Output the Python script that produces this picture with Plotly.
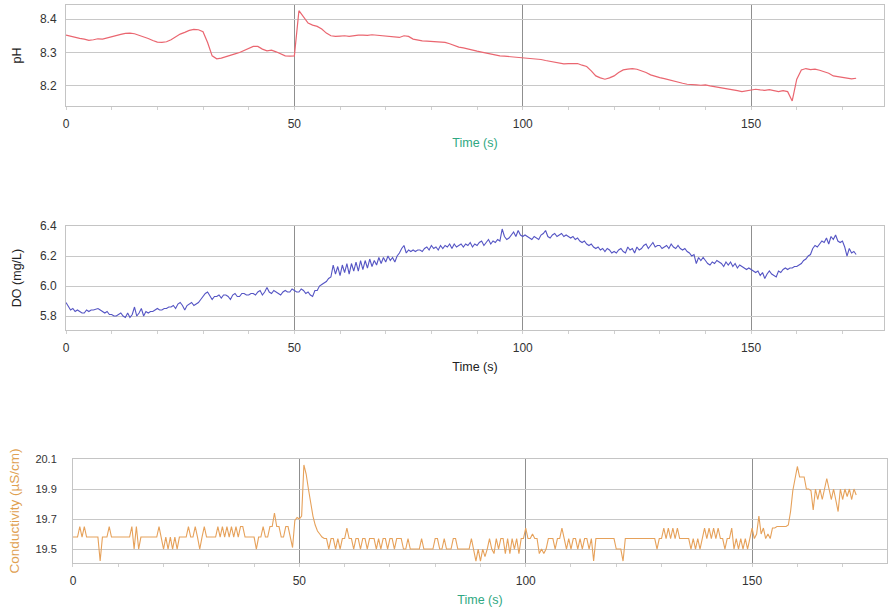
import plotly.graph_objects as go

# sample times (s)
time_ph = list(range(0, 174))
time_half = [i * 0.5 for i in range(347)]

ph = [
    8.352, 8.348, 8.345, 8.342, 8.340, 8.336, 8.338, 8.341, 8.340, 8.344,
    8.347, 8.350, 8.354, 8.357, 8.358, 8.356, 8.352, 8.347, 8.342, 8.336,
    8.331, 8.330, 8.332, 8.338, 8.346, 8.355, 8.360, 8.366, 8.369, 8.368,
    8.362, 8.330, 8.290, 8.281, 8.283, 8.288, 8.292, 8.296, 8.300, 8.306,
    8.313, 8.318, 8.318, 8.310, 8.305, 8.307, 8.302, 8.296, 8.290, 8.289,
    8.290, 8.425, 8.405, 8.388, 8.382, 8.378, 8.370, 8.358, 8.350, 8.348,
    8.349, 8.350, 8.348, 8.351, 8.352, 8.352, 8.351, 8.353, 8.352, 8.351,
    8.350, 8.349, 8.347, 8.345, 8.350, 8.348, 8.340, 8.337, 8.335, 8.334,
    8.333, 8.334, 8.332, 8.330, 8.326, 8.320, 8.316, 8.314, 8.310, 8.306,
    8.304, 8.301, 8.298, 8.296, 8.293, 8.290, 8.289, 8.288, 8.287, 8.286,
    8.285, 8.284, 8.282, 8.280, 8.279, 8.276, 8.273, 8.271, 8.268, 8.266,
    8.267, 8.268, 8.267, 8.262, 8.258, 8.245, 8.230, 8.224, 8.220, 8.224,
    8.230, 8.240, 8.248, 8.250, 8.252, 8.250, 8.246, 8.240, 8.233, 8.228,
    8.225, 8.222, 8.218, 8.214, 8.212, 8.208, 8.205, 8.203, 8.203, 8.202,
    8.203, 8.200, 8.198, 8.196, 8.194, 8.191, 8.189, 8.186, 8.183, 8.185,
    8.189, 8.190, 8.188, 8.187, 8.189, 8.185, 8.183, 8.186, 8.183, 8.155,
    8.220, 8.248, 8.252, 8.249, 8.250, 8.247, 8.243, 8.238, 8.230, 8.228,
    8.224, 8.222, 8.221, 8.223,
]

do_mgl = [
    5.89, 5.86, 5.84, 5.85, 5.83, 5.84, 5.83, 5.82, 5.82, 5.84,
    5.83, 5.84, 5.84, 5.845, 5.85, 5.84, 5.83, 5.82, 5.83, 5.81,
    5.81, 5.80, 5.80, 5.81, 5.82, 5.80, 5.79, 5.82, 5.79, 5.81,
    5.86, 5.80, 5.82, 5.85, 5.80, 5.83, 5.82, 5.83, 5.83, 5.84,
    5.85, 5.84, 5.84, 5.85, 5.85, 5.86, 5.86, 5.87, 5.85, 5.88,
    5.89, 5.87, 5.84, 5.87, 5.88, 5.89, 5.87, 5.88, 5.89, 5.91,
    5.93, 5.95, 5.96, 5.93, 5.91, 5.93, 5.93, 5.94, 5.92, 5.94,
    5.94, 5.93, 5.91, 5.94, 5.95, 5.93, 5.93, 5.95, 5.95, 5.94,
    5.94, 5.95, 5.95, 5.94, 5.96, 5.97, 5.94, 5.96, 5.99, 5.96,
    5.95, 5.97, 5.96, 5.95, 5.94, 5.96, 5.97, 5.96, 5.96, 5.98,
    5.97, 5.96, 5.96, 5.98, 5.97, 5.95, 5.96, 5.94, 5.93, 5.97,
    5.97, 6.00, 6.01, 6.02, 6.03, 6.05, 6.06, 6.14, 6.08, 6.13,
    6.07, 6.14, 6.09, 6.15, 6.08, 6.15, 6.10, 6.16, 6.10, 6.17,
    6.11, 6.17, 6.12, 6.18, 6.13, 6.17, 6.14, 6.19, 6.15, 6.19,
    6.16, 6.20, 6.17, 6.19, 6.16, 6.20, 6.22, 6.25, 6.27, 6.22,
    6.24, 6.23, 6.24, 6.23, 6.24, 6.24, 6.23, 6.25, 6.26, 6.24,
    6.27, 6.25, 6.26, 6.24, 6.27, 6.25, 6.27, 6.26, 6.28, 6.25,
    6.28, 6.26, 6.27, 6.28, 6.26, 6.28, 6.27, 6.29, 6.26, 6.28,
    6.27, 6.29, 6.30, 6.27, 6.29, 6.31, 6.28, 6.30, 6.29, 6.31,
    6.30, 6.38, 6.33, 6.31, 6.32, 6.34, 6.36, 6.33, 6.37, 6.34,
    6.33, 6.34, 6.33, 6.32, 6.31, 6.33, 6.32, 6.31, 6.34, 6.35,
    6.37, 6.33, 6.32, 6.34, 6.35, 6.33, 6.34, 6.35, 6.33, 6.34,
    6.33, 6.32, 6.33, 6.31, 6.32, 6.30, 6.29, 6.30, 6.28, 6.27,
    6.28, 6.26, 6.25, 6.26, 6.24, 6.25, 6.23, 6.25, 6.24, 6.22,
    6.23, 6.22, 6.24, 6.25, 6.23, 6.22, 6.26, 6.24, 6.25, 6.22,
    6.26, 6.24, 6.25, 6.27, 6.28, 6.25, 6.27, 6.29, 6.26, 6.27,
    6.27, 6.25, 6.26, 6.27, 6.25, 6.28, 6.26, 6.25, 6.27, 6.25,
    6.24, 6.25, 6.23, 6.22, 6.20, 6.21, 6.15, 6.19, 6.17, 6.19,
    6.17, 6.15, 6.14, 6.16, 6.15, 6.17, 6.16, 6.15, 6.13, 6.16,
    6.14, 6.16, 6.13, 6.15, 6.12, 6.14, 6.13, 6.12, 6.11, 6.12,
    6.11, 6.10, 6.09, 6.10, 6.07, 6.09, 6.05, 6.08, 6.10, 6.08,
    6.07, 6.06, 6.10, 6.09, 6.11, 6.12, 6.11, 6.12, 6.12, 6.13,
    6.13, 6.14, 6.15, 6.17, 6.18, 6.20, 6.21, 6.25, 6.27, 6.26,
    6.28, 6.30, 6.29, 6.32, 6.28, 6.33, 6.31, 6.34, 6.30, 6.29,
    6.30, 6.26, 6.20, 6.25, 6.22, 6.23, 6.21,
]

conductivity = [
    19.58, 19.58, 19.58, 19.65, 19.58, 19.65, 19.58, 19.58, 19.58, 19.58,
    19.58, 19.58, 19.42, 19.58, 19.58, 19.58, 19.65, 19.58, 19.58, 19.58,
    19.58, 19.58, 19.58, 19.58, 19.58, 19.58, 19.65, 19.50, 19.65, 19.50,
    19.58, 19.58, 19.58, 19.58, 19.58, 19.58, 19.58, 19.58, 19.65, 19.58,
    19.50, 19.58, 19.50, 19.58, 19.50, 19.58, 19.50, 19.58, 19.58, 19.58,
    19.58, 19.65, 19.58, 19.58, 19.65, 19.58, 19.50, 19.58, 19.65, 19.58,
    19.58, 19.58, 19.58, 19.58, 19.65, 19.58, 19.65, 19.58, 19.65, 19.58,
    19.65, 19.58, 19.65, 19.58, 19.65, 19.65, 19.58, 19.58, 19.58, 19.58,
    19.58, 19.50, 19.58, 19.58, 19.65, 19.58, 19.58, 19.65, 19.65, 19.74,
    19.65, 19.65, 19.58, 19.58, 19.65, 19.65, 19.58, 19.51, 19.69, 19.71,
    19.70, 19.72, 20.06, 20.00, 19.90, 19.80, 19.72, 19.66, 19.62, 19.60,
    19.58, 19.57, 19.57, 19.50, 19.57, 19.57, 19.50, 19.57, 19.50, 19.57,
    19.57, 19.64, 19.57, 19.57, 19.50, 19.57, 19.57, 19.50, 19.57, 19.57,
    19.50, 19.57, 19.57, 19.57, 19.50, 19.57, 19.50, 19.57, 19.57, 19.50,
    19.57, 19.57, 19.50, 19.57, 19.57, 19.57, 19.50, 19.50, 19.57, 19.50,
    19.50, 19.50, 19.50, 19.50, 19.57, 19.50, 19.50, 19.50, 19.50, 19.50,
    19.57, 19.57, 19.50, 19.50, 19.57, 19.50, 19.50, 19.50, 19.57, 19.57,
    19.50, 19.50, 19.50, 19.50, 19.50, 19.50, 19.57, 19.50, 19.42, 19.50,
    19.42, 19.50, 19.45, 19.50, 19.57, 19.50, 19.47, 19.57, 19.50, 19.57,
    19.57, 19.47, 19.57, 19.47, 19.57, 19.50, 19.57, 19.47, 19.57, 19.57,
    19.64, 19.57, 19.57, 19.60, 19.57, 19.57, 19.47, 19.50, 19.47, 19.50,
    19.57, 19.57, 19.57, 19.50, 19.57, 19.57, 19.64, 19.57, 19.50, 19.57,
    19.50, 19.57, 19.57, 19.50, 19.57, 19.50, 19.57, 19.57, 19.50, 19.57,
    19.42, 19.57, 19.57, 19.57, 19.57, 19.57, 19.57, 19.57, 19.57, 19.57,
    19.50, 19.50, 19.50, 19.42, 19.57, 19.57, 19.57, 19.57, 19.57, 19.57,
    19.57, 19.57, 19.57, 19.57, 19.57, 19.57, 19.57, 19.57, 19.50, 19.57,
    19.57, 19.64, 19.57, 19.64, 19.57, 19.64, 19.57, 19.64, 19.57, 19.57,
    19.57, 19.57, 19.57, 19.50, 19.57, 19.50, 19.57, 19.50, 19.57, 19.64,
    19.57, 19.64, 19.57, 19.64, 19.57, 19.64, 19.57, 19.57, 19.50, 19.57,
    19.57, 19.64, 19.50, 19.57, 19.50, 19.57, 19.50, 19.57, 19.50, 19.57,
    19.64, 19.57, 19.60, 19.72, 19.60, 19.64, 19.57, 19.60, 19.57, 19.64,
    19.64, 19.65, 19.65, 19.65, 19.65, 19.65, 19.66, 19.75, 19.89, 19.98,
    20.05, 19.98, 19.98, 19.98, 19.90, 19.90, 19.89, 19.76, 19.90, 19.83,
    19.90, 19.83, 19.90, 19.97, 19.90, 19.83, 19.90, 19.83, 19.75, 19.90,
    19.83, 19.90, 19.85, 19.90, 19.83, 19.90, 19.86,
]

x_ticks = [0, 50, 100, 150]
ph_ticks = [8.2, 8.3, 8.4]
do_ticks = [5.8, 6.0, 6.2, 6.4]
cond_ticks = [19.5, 19.7, 19.9, 20.1]

FONT = "Liberation Sans, Arial, sans-serif"
GREEN = "#2fa882"
ORANGE = "#e0a050"

fig = go.Figure()
fig.add_trace(go.Scatter(x=time_ph, y=ph, mode="lines", line=dict(color="#ea6670", width=1.2),
                         xaxis="x", yaxis="y", showlegend=False))
fig.add_trace(go.Scatter(x=time_half, y=do_mgl, mode="lines", line=dict(color="#5555c4", width=1.1),
                         xaxis="x2", yaxis="y2", showlegend=False))
fig.add_trace(go.Scatter(x=time_half, y=conductivity, mode="lines", line=dict(color="#e6a15a", width=1.1),
                         xaxis="x3", yaxis="y3", showlegend=False))


def xax(domain, rng, anchor, title_color):
    return dict(domain=domain, range=rng, anchor=anchor, tickvals=x_ticks,
                showgrid=True, gridcolor="#8f8f8f", gridwidth=1,
                showline=True, mirror=True, linecolor="#c4c4c4", linewidth=1,
                ticks="", zeroline=False, automargin=False, ticklabelstandoff=7,
                minor=dict(dtick=10, ticks="outside", ticklen=3, tickcolor="#d0d0d0", showgrid=False),
                tickfont=dict(size=12, color="#333333", family=FONT),
                title=dict(text="Time (s)", font=dict(size=12.5, color=title_color, family=FONT), standoff=7))


def yax(domain, rng, anchor, ticks, title, title_color, tsize, lstand, title_size, standoff):
    return dict(domain=domain, range=rng, anchor=anchor, tickvals=ticks, tickformat=".1f",
                showgrid=True, gridcolor="#c8c8c8", gridwidth=1.3,
                showline=True, mirror=True, linecolor="#c4c4c4", linewidth=1,
                ticks="", zeroline=False, automargin=False, ticklabelstandoff=lstand,
                tickfont=dict(size=tsize, color="#333333", family=FONT),
                title=dict(text=title, font=dict(size=title_size, color=title_color, family=FONT),
                           standoff=standoff))


fig.update_layout(
    width=890, height=610,
    template="none",
    paper_bgcolor="white", plot_bgcolor="white",
    margin=dict(l=66, r=3, t=5, b=47),
    font=dict(family=FONT),
    hovermode=False,
    xaxis=xax([0, 0.99635], [0, 179.1], "y", GREEN),
    yaxis=yax([0.819, 1.0], [8.14, 8.442], "x", ph_ticks, "pH", "#222222", 12, 6, 12.5, 15),
    xaxis2=xax([0, 0.99635], [0, 179.1], "y2", "#222222"),
    yaxis2=yax([0.4176, 0.6039], [5.707, 6.4], "x2", do_ticks, "DO (mg/L)", "#222222", 12, 6, 12.5, 15),
    xaxis3=xax([0.008526, 1.0], [0, 179.8], "y3", GREEN),
    yaxis3=yax([0.0, 0.1864], [19.407, 20.1], "x3", cond_ticks, "Conductivity (µS/cm)", ORANGE,
               11, 13, 13.5, 12),
)

fig.write_html("out.html", config={"displayModeBar": False},
               post_script="document.body.style.margin='0px';")
